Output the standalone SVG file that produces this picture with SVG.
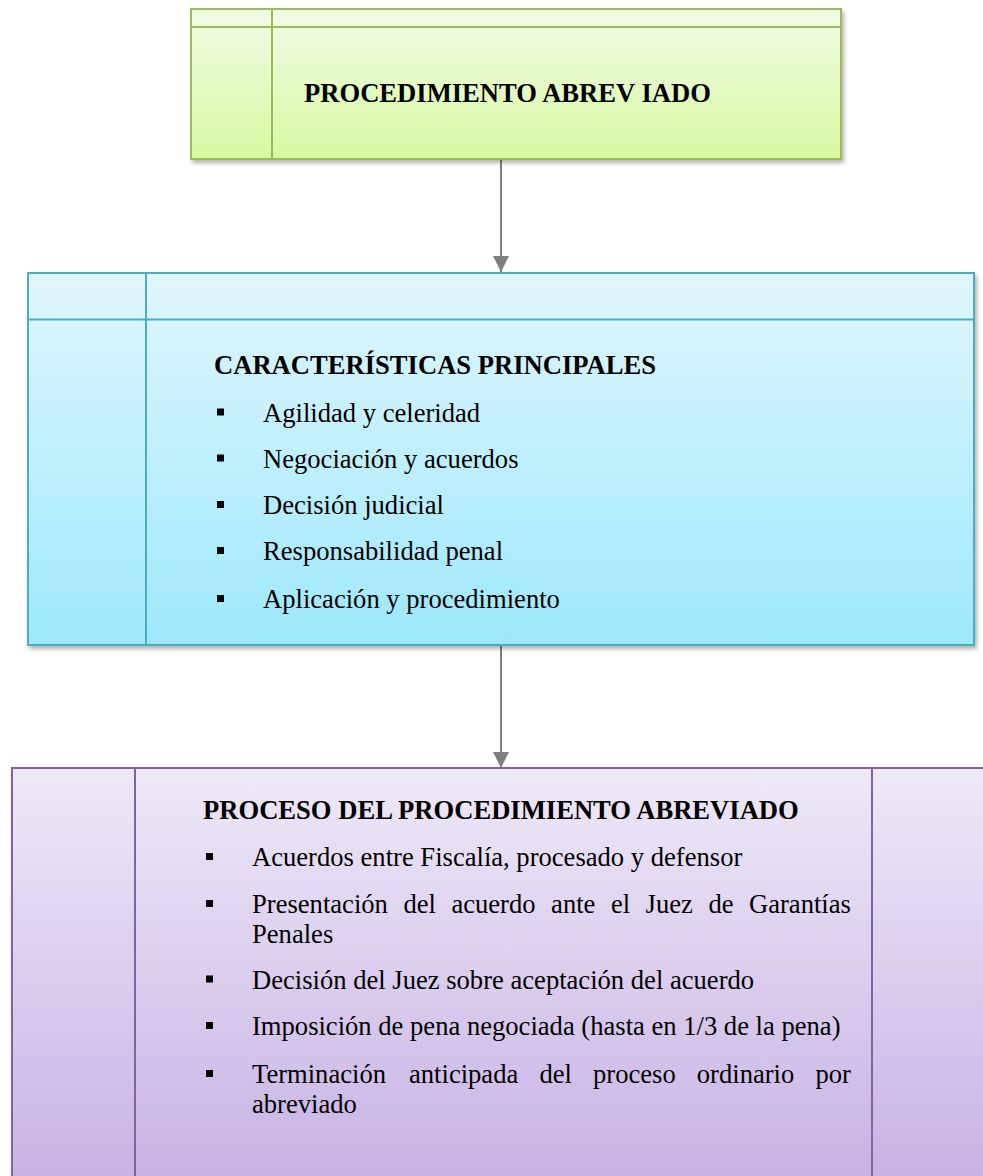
<svg xmlns="http://www.w3.org/2000/svg" width="983" height="1176" viewBox="0 0 983 1176">
<defs>
<linearGradient id="gGreen" x1="0" y1="0" x2="0" y2="1">
<stop offset="0" stop-color="#F2FBE6"/>
<stop offset="1" stop-color="#D8F9A2"/>
</linearGradient>
<linearGradient id="gBlue" x1="0" y1="0" x2="0" y2="1">
<stop offset="0" stop-color="#E1F6FD"/>
<stop offset="1" stop-color="#9DE8FC"/>
</linearGradient>
<linearGradient id="gPurple" x1="0" y1="768" x2="0" y2="1190" gradientUnits="userSpaceOnUse">
<stop offset="0" stop-color="#EEE9F7"/>
<stop offset="1" stop-color="#C6B1E4"/>
</linearGradient>
<filter id="shadow" x="-5%" y="-5%" width="115%" height="120%">
<feDropShadow dx="2" dy="3" stdDeviation="2" flood-color="#000" flood-opacity="0.3"/>
</filter>
<marker id="arrow" viewBox="0 0 16 16" refX="16" refY="8" markerWidth="16" markerHeight="16" markerUnits="userSpaceOnUse" orient="auto">
<path d="M0,0 L16,8 L0,16 Z" fill="#7F7F7F"/>
</marker>
</defs>
<style>
.title { font-family: "Liberation Serif", "Times New Roman", serif; font-weight: bold; font-size: 26.6px; fill: #000; }
.item { font-family: "Liberation Serif", "Times New Roman", serif; font-size: 26.6px; fill: #000; }
.bullet { fill: #000; }
.green { fill: url(#gGreen); stroke: #9BBB59; stroke-width: 2; }
.gline { stroke: #9BBB59; stroke-width: 2; }
.blue { fill: url(#gBlue); stroke: #4BACC6; stroke-width: 2; }
.bline { stroke: #4BACC6; stroke-width: 2; }
.purple { fill: url(#gPurple); stroke: #8064A2; stroke-width: 2; }
.pline { stroke: #8064A2; stroke-width: 2; }
.conn { stroke: #7F7F7F; stroke-width: 2; fill: none; marker-end: url(#arrow); }
</style>
<rect width="983" height="1176" fill="#FFFFFF"/>

<g id="connectors">
<line class="conn" x1="501" y1="159" x2="501" y2="272"/>
<line class="conn" x1="501" y1="645" x2="501" y2="768"/>
</g>

<g id="node-procedimiento">
<rect class="green" x="191" y="9" width="650" height="150" filter="url(#shadow)"/>
<line class="gline" x1="191" y1="27" x2="841" y2="27"/>
<line class="gline" x1="272" y1="9" x2="272" y2="159"/>
<text class="title" x="304" y="102">PROCEDIMIENTO ABREV IADO</text>
</g>

<g id="node-caracteristicas">
<rect class="blue" x="28" y="273" width="946" height="372" filter="url(#shadow)"/>
<line class="bline" x1="28" y1="319.5" x2="974" y2="319.5"/>
<line class="bline" x1="146" y1="273" x2="146" y2="645"/>
<text class="title" x="214" y="374">CARACTERÍSTICAS PRINCIPALES</text>
<rect class="bullet" x="217" y="408.5" width="7" height="7"/>
<text class="item" x="263" y="421.5">Agilidad y celeridad</text>
<rect class="bullet" x="217" y="454.5" width="7" height="7"/>
<text class="item" x="263" y="467.5">Negociación y acuerdos</text>
<rect class="bullet" x="217" y="501" width="7" height="7"/>
<text class="item" x="263" y="514">Decisión judicial</text>
<rect class="bullet" x="217" y="547" width="7" height="7"/>
<text class="item" x="263" y="560">Responsabilidad penal</text>
<rect class="bullet" x="217" y="595" width="7" height="7"/>
<text class="item" x="263" y="608">Aplicación y procedimiento</text>
</g>

<g id="node-proceso">
<rect class="purple" x="12" y="768" width="990" height="430" filter="url(#shadow)"/>
<line class="pline" x1="135" y1="768" x2="135" y2="1176"/>
<line class="pline" x1="872" y1="768" x2="872" y2="1176"/>
<text class="title" x="203" y="819">PROCESO DEL PROCEDIMIENTO ABREVIADO</text>
<rect class="bullet" x="206" y="853" width="7" height="7"/>
<text class="item" x="252" y="866">Acuerdos entre Fiscalía, procesado y defensor</text>
<rect class="bullet" x="206" y="900" width="7" height="7"/>
<text class="item" y="913"><tspan x="252">Presentación</tspan><tspan x="403.4">del</tspan><tspan x="451.4">acuerdo</tspan><tspan x="551.1">ante</tspan><tspan x="610.9">el</tspan><tspan x="645.6">Juez</tspan><tspan x="708.4">de</tspan><tspan x="749">Garantías</tspan></text>
<text class="item" x="252" y="942.5">Penales</text>
<rect class="bullet" x="206" y="975.5" width="7" height="7"/>
<text class="item" x="252" y="988.5">Decisión del Juez sobre aceptación del acuerdo</text>
<rect class="bullet" x="206" y="1022" width="7" height="7"/>
<text class="item" x="252" y="1035">Imposición de pena negociada (hasta en 1/3 de la pena)</text>
<rect class="bullet" x="206" y="1070" width="7" height="7"/>
<text class="item" y="1083"><tspan x="252">Terminación</tspan><tspan x="409">anticipada</tspan><tspan x="539.4">del</tspan><tspan x="593">proceso</tspan><tspan x="696.8">ordinario</tspan><tspan x="815.4">por</tspan></text>
<text class="item" x="252" y="1113">abreviado</text>
</g>
</svg>
